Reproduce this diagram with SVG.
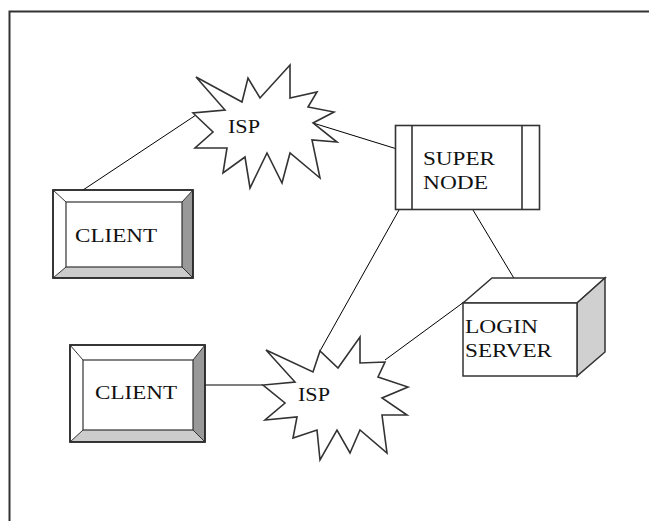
<svg xmlns="http://www.w3.org/2000/svg" width="649" height="521" viewBox="0 0 649 521">
<style>
.ln{stroke:#000;stroke-width:1;fill:none}
.sh{stroke:#333;stroke-width:1.6;stroke-linejoin:miter}
.t{font-family:"Liberation Serif","Times New Roman",serif;font-size:19px;fill:#111}
</style>
<rect width="649" height="521" fill="#fff"/>
<path d="M9.5,521 V11.5 H649" fill="none" stroke="#333" stroke-width="2"/>
<g id="connectors">
<line class="ln" x1="83" y1="190" x2="196" y2="115"/>
<line class="ln" x1="313" y1="123" x2="397" y2="149"/>
<line class="ln" x1="399" y1="210" x2="320" y2="351"/>
<line class="ln" x1="473" y1="210" x2="515" y2="280"/>
<line class="ln" x1="385" y1="360" x2="464" y2="302"/>
<line class="ln" x1="200" y1="385" x2="263" y2="385"/>
</g>
<g id="isp-top">
<polygon class="sh" fill="#fff" points="196,77 242,102 248,78 260,98 290,65 290,98 317,92 308,107 334,112 313,123 337,142 312,140 320,178 290,153 282,183 267,153 250,188 245,157 223,173 227,148 195,148 213,132 193,113 225,110"/>
<text class="t" x="228" y="133" textLength="32" lengthAdjust="spacingAndGlyphs">ISP</text>
</g>
<g id="isp-bottom">
<polygon class="sh" fill="#fff" points="266,350 313,372 320,351 338,368 360,337 360,363 385,362 378,377 408,387 382,398 407,415 382,415 387,453 360,430 350,453 337,430 320,460 317,430 293,438 297,417 265,420 285,403 263,385 295,382"/>
<text class="t" x="298" y="401" textLength="32" lengthAdjust="spacingAndGlyphs">ISP</text>
</g>
<g id="super-node">
<rect x="395.5" y="125.5" width="144" height="84" fill="#fff" stroke="#333" stroke-width="1.6"/>
<line x1="412" y1="125.5" x2="412" y2="209.5" stroke="#333" stroke-width="1.6"/>
<line x1="522" y1="125.5" x2="522" y2="209.5" stroke="#333" stroke-width="1.6"/>
<text class="t" x="423" y="165" textLength="72" lengthAdjust="spacingAndGlyphs">SUPER</text>
<text class="t" x="423" y="189" textLength="65" lengthAdjust="spacingAndGlyphs">NODE</text>
</g>
<g id="client-top">
<polygon points="53,190 193,190 182,202 66,202" fill="#fff"/>
<polygon points="53,190 66,202 66,267 53,278" fill="#fff"/>
<polygon points="193,190 193,278 182,267 182,202" fill="#999"/>
<polygon points="53,278 66,267 182,267 193,278" fill="#ccc"/>
<rect x="53" y="190" width="140" height="88" fill="none" stroke="#222" stroke-width="1.8"/>
<rect x="66" y="202" width="116" height="65" fill="#fff" stroke="#333" stroke-width="1.2"/>
<path d="M53,190 L66,202 M193,190 L182,202 M53,278 L66,267 M193,278 L182,267" stroke="#333" stroke-width="1"/>
<text class="t" x="75" y="242" textLength="82" lengthAdjust="spacingAndGlyphs">CLIENT</text>
</g>
<g id="client-bottom">
<polygon points="70,345 205,345 193,360 83,360" fill="#fff"/>
<polygon points="70,345 83,360 83,430 70,442" fill="#fff"/>
<polygon points="205,345 205,442 193,430 193,360" fill="#999"/>
<polygon points="70,442 83,430 193,430 205,442" fill="#ccc"/>
<rect x="70" y="345" width="135" height="97" fill="none" stroke="#222" stroke-width="1.8"/>
<rect x="83" y="360" width="110" height="70" fill="#fff" stroke="#333" stroke-width="1.2"/>
<path d="M70,345 L83,360 M205,345 L193,360 M70,442 L83,430 M205,442 L193,430" stroke="#333" stroke-width="1"/>
<text class="t" x="95" y="399" textLength="82" lengthAdjust="spacingAndGlyphs">CLIENT</text>
</g>
<g id="login-server">
<polygon points="463,303 492,278 605,278 577,303" fill="#fff" stroke="#333" stroke-width="1.5"/>
<polygon points="577,303 605,278 605,352 577,376" fill="#d0d0d0" stroke="#333" stroke-width="1.5"/>
<rect x="463" y="303" width="114" height="73" fill="#fff" stroke="#333" stroke-width="1.5"/>
<text class="t" x="465" y="333" textLength="73" lengthAdjust="spacingAndGlyphs">LOGIN</text>
<text class="t" x="465" y="357" textLength="87" lengthAdjust="spacingAndGlyphs">SERVER</text>
</g>
</svg>
